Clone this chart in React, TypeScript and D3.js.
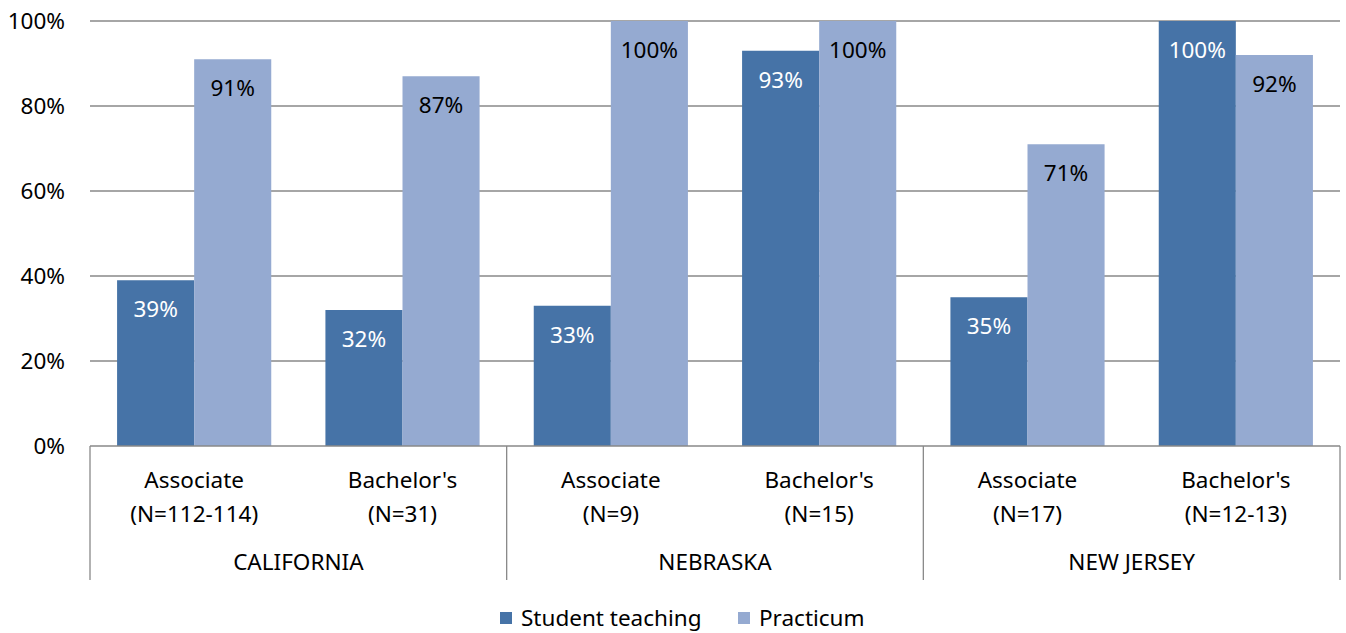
import React, { useEffect, useRef } from 'react';
import * as d3 from 'd3';

const categories = ["Associate|(N=112-114)", "Bachelor's|(N=31)", "Associate|(N=9)", "Bachelor's|(N=15)", "Associate|(N=17)", "Bachelor's|(N=12-13)"];
const states = ["CALIFORNIA", "NEBRASKA", "NEW JERSEY"];
const studentTeaching = [39, 32, 33, 93, 35, 100];
const practicum = [91, 87, 100, 100, 71, 92];
const seriesNames = ["Student teaching", "Practicum"];
const yTicks = [0, 20, 40, 60, 80, 100];

const FONT = "'Noto Sans', sans-serif";
const FS = 22.5;

const App = () => {
    const ref = useRef<SVGSVGElement>(null);

    useEffect(() => {
        const width = 1346, height = 633;
        const left = 90, right = 1340, top = 21, bottom = 446;
        const colors = ["#4673a7", "#95aad1"];

        const svg = d3.select(ref.current)
            .attr("width", width)
            .attr("height", height)
            .style("font-family", FONT);
        svg.selectAll("*").remove();

        const x0 = d3.scaleBand()
            .domain(categories.map((_, i) => String(i)))
            .range([left, right])
            .paddingInner(0.26)
            .paddingOuter(0.13);
        const x1 = d3.scaleBand()
            .domain(["0", "1"])
            .range([0, x0.bandwidth()]);
        const y = d3.scaleLinear().domain([0, 100]).range([bottom, top]);

        // gridlines
        svg.append("g").selectAll("line")
            .data(yTicks.filter(t => t > 0))
            .enter().append("line")
            .attr("x1", left).attr("x2", right)
            .attr("y1", d => y(d)).attr("y2", d => y(d))
            .attr("stroke", "#898989").attr("stroke-width", 1.3);

        // y labels
        svg.append("g").selectAll("text")
            .data(yTicks)
            .enter().append("text")
            .attr("x", 65)
            .attr("y", d => y(d) + 8)
            .attr("text-anchor", "end")
            .attr("font-size", FS)
            .text(d => d + "%");

        // bars
        const rows = categories.map((c, i) => ({ i, values: [studentTeaching[i], practicum[i]] }));
        const groups = svg.append("g").selectAll("g")
            .data(rows)
            .enter().append("g")
            .attr("transform", d => `translate(${x0(String(d.i))},0)`);

        groups.selectAll("rect")
            .data(d => d.values.map((v, s) => ({ v, s })))
            .enter().append("rect")
            .attr("x", d => x1(String(d.s))!)
            .attr("y", d => y(d.v))
            .attr("width", x1.bandwidth())
            .attr("height", d => bottom - y(d.v))
            .attr("fill", d => colors[d.s]);

        groups.selectAll("text")
            .data(d => d.values.map((v, s) => ({ v, s })))
            .enter().append("text")
            .attr("x", d => x1(String(d.s))! + x1.bandwidth() / 2)
            .attr("y", d => y(d.v) + 37)
            .attr("text-anchor", "middle")
            .attr("font-size", FS)
            .attr("fill", d => d.s === 0 ? "#ffffff" : "#000000")
            .text(d => d.v + "%");

        // x axis
        svg.append("line")
            .attr("x1", left).attr("x2", right)
            .attr("y1", bottom).attr("y2", bottom)
            .attr("stroke", "#898989").attr("stroke-width", 1.3);

        const stateScale = d3.scaleBand().domain(states).range([left, right]);
        const seps = [left, ...states.map(s => stateScale(s)! + stateScale.bandwidth())];
        svg.append("g").selectAll("line")
            .data(seps)
            .enter().append("line")
            .attr("x1", d => d).attr("x2", d => d)
            .attr("y1", bottom).attr("y2", 580)
            .attr("stroke", "#898989").attr("stroke-width", 1.3);

        const catLabels = svg.append("g").selectAll("text")
            .data(categories)
            .enter().append("text")
            .attr("text-anchor", "middle")
            .attr("font-size", FS)
            .attr("transform", (_, i) => `translate(${x0(String(i))! + x0.bandwidth() / 2},0)`);
        catLabels.append("tspan").attr("x", 0).attr("y", 488).text(d => d.split("|")[0]);
        catLabels.append("tspan").attr("x", 0).attr("y", 522).text(d => d.split("|")[1]);

        svg.append("g").selectAll("text")
            .data(states)
            .enter().append("text")
            .attr("x", d => stateScale(d)! + stateScale.bandwidth() / 2)
            .attr("y", 570)
            .attr("text-anchor", "middle")
            .attr("font-size", FS)
            .text(d => d);

        // legend
        const legendX = [500, 738];
        const legend = svg.append("g").selectAll("g")
            .data(seriesNames)
            .enter().append("g")
            .attr("transform", (_, i) => `translate(${legendX[i]},612)`);
        legend.append("rect")
            .attr("width", 12).attr("height", 12)
            .attr("fill", (_, i) => colors[i]);
        legend.append("text")
            .attr("x", 21).attr("y", 14)
            .attr("font-size", FS)
            .text(d => d);
    }, []);

    return (
        <svg ref={ref} style={{ position: "absolute", left: 0, top: 0 }}></svg>
    );
};

export default App;
